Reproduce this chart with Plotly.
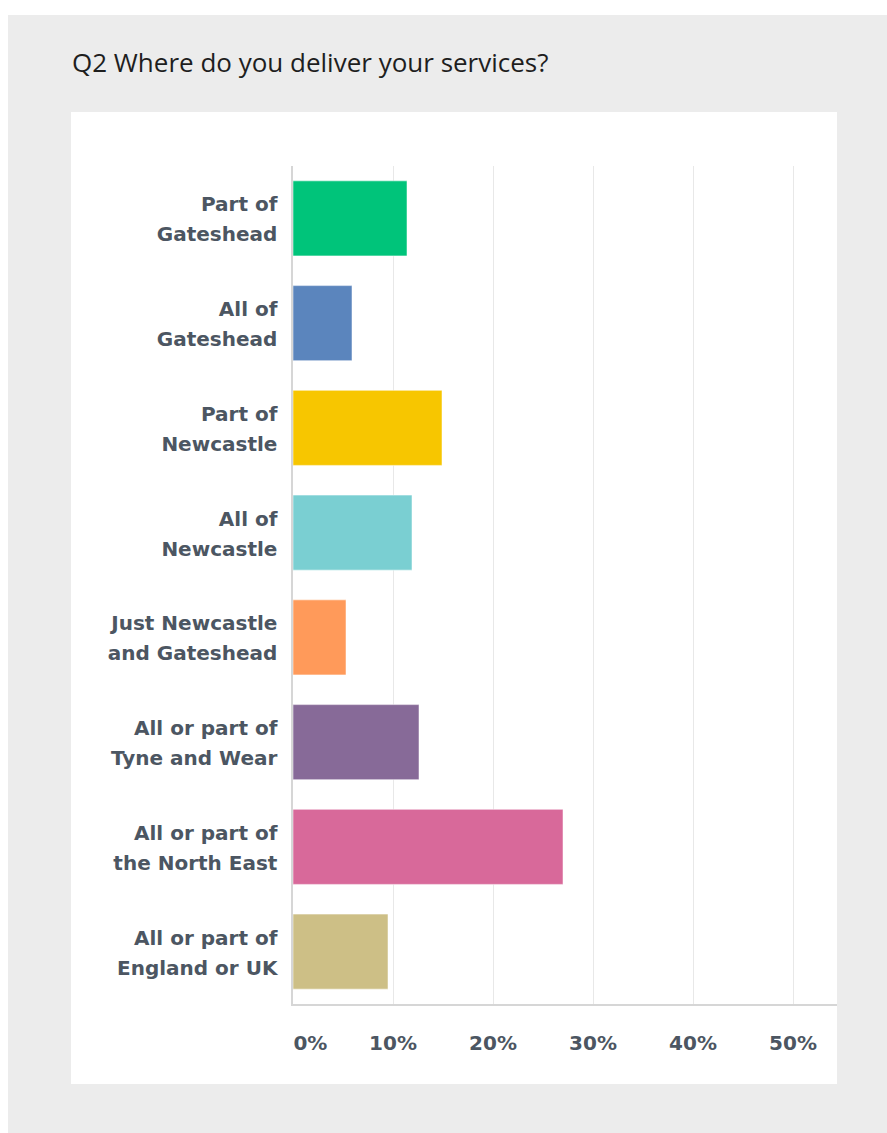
import plotly.graph_objects as go

# Survey responses: share of respondents per service area (%)
categories = [
    "Part of<br>Gateshead",
    "All of<br>Gateshead",
    "Part of<br>Newcastle",
    "All of<br>Newcastle",
    "Just Newcastle<br>and Gateshead",
    "All or part of<br>Tyne and Wear",
    "All or part of<br>the North East",
    "All or part of<br>England or UK",
]
percentages = [11.4, 5.9, 14.9, 11.9, 5.3, 12.6, 27.0, 9.5]
bar_colors = ["#00c47a", "#5b85bd", "#f7c600", "#7acfd2", "#ff9a5a",
              "#876a98", "#d8699a", "#cdbf86"]

tick_values = [0, 10, 20, 30, 40, 50]
tick_labels = ["\u00a0\u00a0\u00a0\u00a0\u00a00%", "10%", "20%", "30%", "40%", "50%"]

W, H = 887, 1133
label_color = "#4c5662"


def styled(label):
    # smaller glyphs inside a larger base size -> roomier line spacing
    return "<br>".join(f'<span style="font-size:20px">{part}</span>'
                       for part in label.split("<br>"))


fig = go.Figure(
    go.Bar(
        x=percentages,
        y=categories,
        orientation="h",
        marker=dict(color=bar_colors, line=dict(width=1, color="rgba(255,255,255,0.5)")),
        hoverinfo="skip",
    )
)

fig.update_layout(
    width=W,
    height=H,
    paper_bgcolor="white",
    plot_bgcolor="rgba(0,0,0,0)",
    margin=dict(l=293, r=50, t=166, b=129, autoexpand=False),
    bargap=0.284,
    showlegend=False,
    xaxis=dict(
        range=[0, 54.4],
        tickvals=tick_values,
        ticktext=tick_labels,
        showgrid=True,
        gridcolor="#e8e8e8",
        gridwidth=1,
        zeroline=False,
        showline=True,
        linecolor="#d6d6d6",
        linewidth=2,
        ticks="",
        ticklabelstandoff=20,
        tickfont=dict(family="DejaVu Sans", size=20, color=label_color, weight="bold"),
        fixedrange=True,
    ),
    yaxis=dict(
        categoryorder="array",
        categoryarray=categories[::-1],
        tickvals=categories,
        ticktext=[styled(c) for c in categories],
        autorange=False,
        range=[-0.5, 7.5],
        showgrid=False,
        zeroline=False,
        showline=True,
        linecolor="#d6d6d6",
        linewidth=2,
        ticks="",
        ticklabelstandoff=9,
        tickfont=dict(family="DejaVu Sans", size=23, color=label_color, weight="bold"),
        fixedrange=True,
    ),
)

# Convert pixel rectangles into paper coordinates of the plot area
plot_l, plot_r, plot_t, plot_b = 293, 837, 166, 1004
pw, ph = plot_r - plot_l, plot_b - plot_t


def px_rect(x0, y0, x1, y1, color):
    return dict(
        type="rect", xref="paper", yref="paper", layer="below",
        x0=(x0 - plot_l) / pw, x1=(x1 - plot_l) / pw,
        y0=(plot_b - y1) / ph, y1=(plot_b - y0) / ph,
        fillcolor=color, line=dict(width=0),
    )


fig.layout.shapes = [
    px_rect(8, 15, W, H, "#ececec"),
    px_rect(71, 112, 837, 1084, "#ffffff"),
]

fig.add_annotation(
    text="Q2 Where do you deliver your services?",
    xref="paper", yref="paper",
    x=(70 - plot_l) / pw, y=(plot_b - 62) / ph,
    xanchor="left", yanchor="middle",
    showarrow=False,
    font=dict(family="Open Sans", size=26, color="#1e1e1e"),
)

fig.write_html("out.html", config={"displayModeBar": False})
